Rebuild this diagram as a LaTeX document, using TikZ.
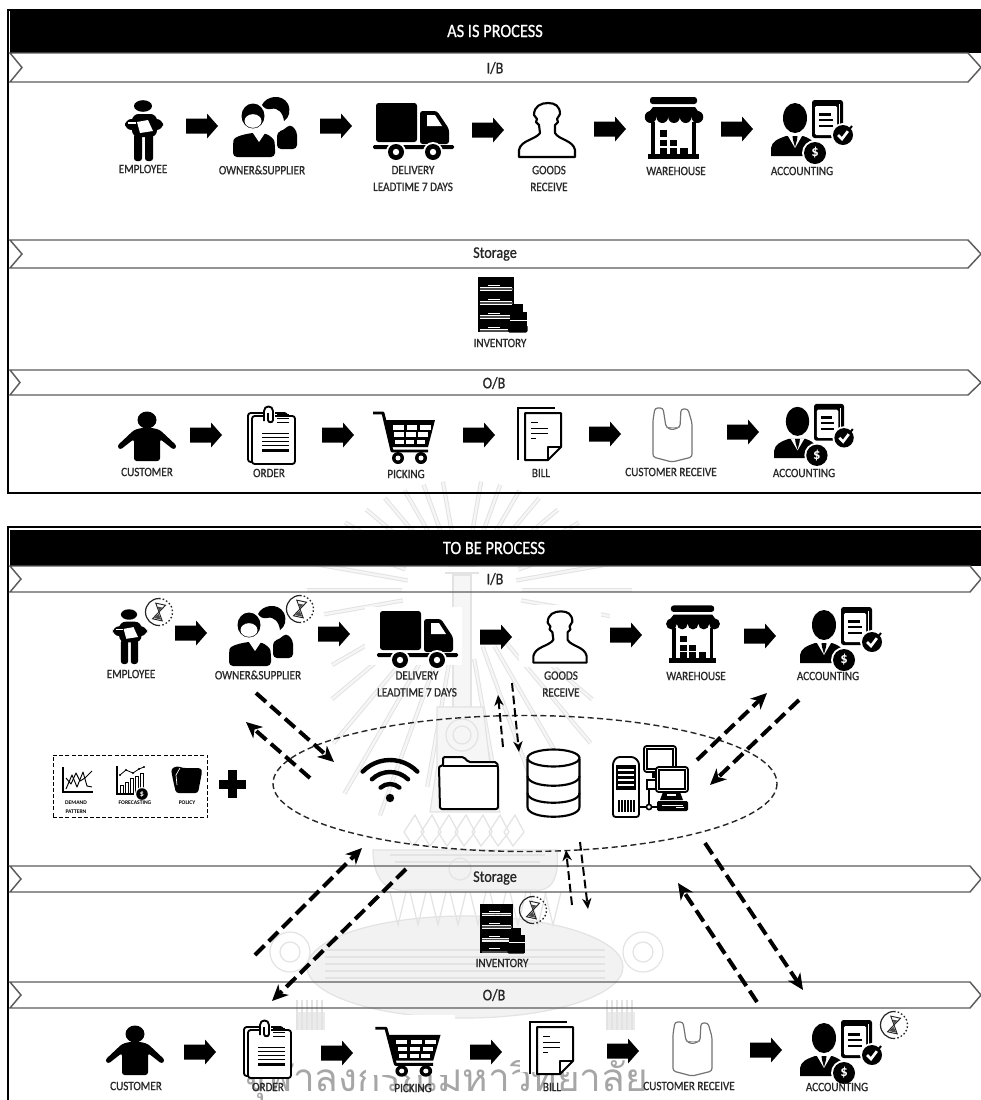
\documentclass[tikz,border=0pt]{standalone}
\usepackage{fontspec}
\setmainfont{Carlito}
\newfontfamily\condfont[FakeStretch=0.87,FakeBold=0.8]{Carlito}
\newfontfamily\thaifont[Script=Thai]{Loma}
\usetikzlibrary{arrows.meta}
\definecolor{labelgray}{gray}{0.16}
\definecolor{bandline}{gray}{0.36}
\definecolor{wm}{gray}{0.89}
\definecolor{wmin}{gray}{0.965}
\definecolor{wmfill}{gray}{0.95}
\definecolor{wmtassel}{gray}{0.92}
\tikzset{
 lab/.style={text=labelgray,font=\condfont\fontsize{9.6}{12.6}\selectfont,inner sep=0pt,align=center},
 tinylab/.style={text=black,font=\bfseries\fontsize{4.2}{6.6}\selectfont,inner sep=0pt,align=center},
 bandlab/.style={text=black!85,font=\condfont\fontsize{12.2}{14}\selectfont,inner sep=0pt},
 titlelab/.style={text=white,font=\condfont\fontsize{14.1}{16}\selectfont,inner sep=0pt},
 bandshape/.style={draw=bandline,line width=1.1pt},
 ol/.style={draw=black,line width=1.4pt,line join=round,fill=white},
 thickdash/.style={draw=black,line width=3pt,dash pattern=on 10pt off 4.5pt,-{Stealth[length=12pt,width=11pt,inset=3.5pt]}},
 thindash/.style={draw=black,line width=1.5pt,dash pattern=on 6.5pt off 3pt,-{Stealth[length=8pt,width=7pt,inset=2.5pt]}},
 ringdash/.style={draw=black!85,line width=1.05pt,dash pattern=on 4.5pt off 2.6pt},
 spear/.style={line width=3.2pt,draw=wm},
 spearin/.style={line width=1.7pt,draw=wmin},
 blockarrow/.pic={\fill (-16,-7.5)--(5,-7.5)--(5,-12.5)--(16,0)--(5,12.5)--(5,7.5)--(-16,7.5)--cycle;},
 employee/.pic={
  \fill (0,-25) ellipse[x radius=9,y radius=5.8];
  \fill[rounded corners=5] (-11,-17) rectangle (14,6);
  \fill[rounded corners=5] (-18,-12) rectangle (20,-1);
  \fill[rounded corners=2] (-9,3) rectangle (-1,30);
  \fill[rounded corners=2] (2,3) rectangle (10,30);
  \fill[white] (-6,-9)--(5,-11)--(10,0)--(-3,2)--cycle;
  \draw[white,line width=.8pt] (-15,-8)--(-7,-8);
 },
 owner/.pic={
  \fill[rounded corners=3] (13,22)--(13,5)--(20,3)--(26,-3)--(33,4)--(33,22)--cycle;
  \fill (-2,-22) .. controls (2,-31) and (18,-34) .. (24,-23) .. controls (27,-16) and (25,-9) .. (20,-6) .. controls (19,-14) and (14,-20) .. (7,-18) .. controls (3,-17) and (0,-19) .. (-2,-22)--cycle;
  \fill[rounded corners=3] (-31,30)--(-31,17) .. controls (-30,10) and (-22,8) .. (-13,6)--(-1,6) .. controls (5,8) and (10,12) .. (11,18)--(11,30)--cycle;
  \fill[white] (-11,6)--(-5,15)--(1,6)--cycle;
  \fill (-11,-11) ellipse[x radius=11.5,y radius=12.5];
  \fill[white] (-11,-6) ellipse[x radius=8.5,y radius=6.8];
 },
 truck/.pic={
  \fill[rounded corners=2] (-37,-27) rectangle (4,12);
  \fill[rounded corners=2] (7,-19)--(24,-19)--(36,-1)--(36,14)--(7,14)--cycle;
  \fill[white] (14,-15)--(22,-15)--(29,-4)--(14,-4)--cycle;
  \fill[rounded corners=1] (-40,15) rectangle (41,19);
  \fill[white] (-17,22) circle[radius=10];
  \fill[white] (20,22) circle[radius=10];
  \fill (-17,22) circle[radius=8];
  \fill (20,22) circle[radius=8];
  \fill[white] (-17,22) circle[radius=3.2];
  \fill[white] (20,22) circle[radius=3.2];
 },
 goods/.pic={
  \draw[black,line width=1.6pt,line join=round,fill=white] (-28,27)--(-28,20) .. controls (-26,10) and (-12,10) .. (-7,3)--(-8,-5)--(-11,-8)--(-10,-11)--(-13,-15) .. controls (-13,-24) and (-6,-27) .. (1,-27) .. controls (8,-27) and (13,-24) .. (13,-16)--(10,-11)--(11,-8)--(8,-5)--(8,3) .. controls (12,10) and (26,10) .. (28,20)--(28,27)--cycle;
 },
 warehouse/.pic={
  \fill[rounded corners=2] (-24,-31) rectangle (23,-24);
  \fill (-21,-21)--(21,-21)--(28,-11)--(-29,-11)--cycle;
  \foreach \i in {-23.4,-11.7,0,11.7,23.4}{\fill (\i,-11) ellipse[x radius=5.85,y radius=6];}
  \fill (-23,-6) rectangle (-19,27);
  \fill (18,-6) rectangle (22,27);
  \fill (-26,26) rectangle (25,31);
  \fill (-14,2) rectangle (-7,9);
  \fill (-14,12) rectangle (-7,18);
  \fill (-14,20) rectangle (-7,26);
  \fill (-4,12) rectangle (3,18);
  \fill (-4,20) rectangle (3,26);
  \fill (6,20) rectangle (14,26);
 },
 accounting/.pic={
  \fill (-17,-11) ellipse[x radius=12,y radius=15];
  \fill (-41,27)--(-41,19) .. controls (-40,12) and (-34,10) .. (-26,7)--(-9,7) .. controls (-3,9) and (0,11) .. (1,14)--(1,27)--cycle;
  \fill[white] (-24,7)--(-17,19)--(-10,7)--cycle;
  \fill (-19.5,7)--(-14.5,7)--(-15,11)--(-17,18)--(-19,11)--cycle;
  \fill[rounded corners=2] (0,-29) rectangle (31,9);
  \fill[white,rounded corners=1] (3,-23) rectangle (25,6);
  \fill[white] (27,-25) rectangle (28,8);
  \fill (7,-16) rectangle (19,-13.5);
  \fill (7,-10) rectangle (21,-8);
  \fill (7,-4) rectangle (21,-2);
  \fill[white] (31,6) circle[radius=12];
  \fill (31,6) circle[radius=10];
  \draw[white,line width=2pt] (26,6)--(30,10)--(36,2);
  \draw[black,line width=1.5pt] (36,2)--(40,-3);
  \fill[white] (3,24) circle[radius=13];
  \fill (3,24) circle[radius=11];
  \node[text=white,font=\bfseries\fontsize{11}{11}\selectfont,inner sep=0pt] (dollarsign) at (3,24) {\$};
 },
 inventory/.pic={
  \fill (-24,-27) rectangle (-22,28);
  \fill (10,-27) rectangle (12,28);
  \foreach \y in {-27,-13,1,15}{
   \fill (-22,\y) rectangle (10,\y+10);
   \draw[white,line width=.6pt] (-14,\y+8)--(-2,\y+8);
   \fill[black!70] (-22,\y+11) rectangle (11,\y+12.5);
  }
  \fill (12,0) rectangle (21,8);
  \fill (8,8) rectangle (25,28);
  \fill[rounded corners=1] (6,21) rectangle (25.5,28.5);
  \draw[white,line width=.5pt] (8,16)--(25,16);
 },
 customer/.pic={
  \fill (0,-16) ellipse[x radius=9.5,y radius=8.5];
  \fill[rounded corners=2] (-6,-8)--(6,-8)--(13,-6)--(30,10)--(27,14)--(13,3)--(13,25)--(-13,25)--(-13,3)--(-27,14)--(-30,10)--(-13,-6)--cycle;
 },
 orderdoc/.pic={
  \draw[ol,rounded corners=2] (-23,-22) rectangle (16,27);
  \draw[ol,rounded corners=2] (-19,-19) rectangle (24,29);
  \fill[white] (-8,-29) rectangle (4,-12);
  \draw[black,line width=1.4pt] (-7,-14)--(-7,-24) .. controls (-7,-30) and (2,-30) .. (2,-24)--(2,-15) .. controls (2,-12) and (-3,-12) .. (-3,-15)--(-3,-22);
  \fill (6,-21) rectangle (18,-19.8);
  \fill (6,-17) rectangle (18,-15.8);
  \fill (6,-13) rectangle (18,-11.8);
  \foreach \y in {-2,2,6,10}{\fill (-9,\y) rectangle (18,\y+1.2);}
  \fill (-9,14) rectangle (18,17);
 },
 cart/.pic={
  \draw[line width=2.2pt,line join=round] (-31,-25)--(-21,-25)--(-12,13)--(24,13);
  \fill (-19,-18)--(31,-18)--(24,9)--(-13,9)--cycle;
  \foreach \c/\d in {0/0,1/0,2/0,0/1,1/1,2/1,0/2,1/2,2/2}{
   \fill[white] ({-11+\d+\c*(13.5-\d*1.3)},{-13+\d*7.3}) rectangle ({-11+\d+\c*(13.5-\d*1.3)+10.5-\d},{-13+\d*7.3+4.5});
  }
  \fill (-6,20) circle[radius=6];
  \fill (17,20) circle[radius=6];
  \fill[white] (-6,20) circle[radius=2.5];
  \fill[white] (17,20) circle[radius=2.5];
 },
 billdoc/.pic={
  \draw[black,line width=1.3pt] (-21,26)--(-21,-26)--(16,-26);
  \draw[black,line width=1.5pt,line join=round,fill=white] (-14,-21)--(22,-21)--(22,13)--(9,26)--(-14,26)--cycle;
  \draw[black,line width=1pt,line join=round] (22,13)--(9,13)--(9,26);
  \foreach \y/\l in {-12/7,-6/17,-1/17,4/5}{\fill (-8,\y) rectangle (-8+\l,\y+1.1);}
 },
 bagicon/.pic={
  \draw[black!55,line width=.9pt,fill=white,line join=round,rounded corners=2] (-19,-15)--(-17,-27)--(-9,-27)--(-6,-8)--(0,-5)--(8,-8)--(9,-26)--(16,-26)--(20,-12)--(20,22)--(0,27)--(-19,22)--cycle;
  \draw[black!45,line width=.6pt] (-6,-8) .. controls (-2,-7) and (4,-7) .. (8,-8);
 },
 hourglass/.pic={
  \draw[black!85,line width=.9pt] (0,-13.5) arc[start angle=-90,end angle=-270,radius=13.5];
  \draw[black!85,line width=1pt,dash pattern=on 1.2pt off 1.6pt] (0,-13.5) arc[start angle=-90,end angle=90,radius=13.5];
  \begin{scope}[rotate=-12]
   \draw[black!85,line width=.7pt,fill=white] (-5,-8)--(5,-8)--(-5,8)--(5,8)--cycle;
   \fill[black!70] (-2.5,-5)--(2.5,-5)--(0,-1)--cycle;
   \fill[black!70] (-4,7)--(4,7)--(0,2)--cycle;
  \end{scope}
 },
 wifi/.pic={
  \fill (0,16) circle[radius=4.2];
  \foreach \r/\a in {14/42,26/44,38/46}{
   \draw[line width=3.3pt,line cap=round] ({\r*cos(-90-\a)},{16+\r*sin(-90-\a)}) arc[start angle=-90-\a,end angle=-90+\a,radius=\r];
  }
 },
 folderbig/.pic={
  \draw[black,line width=1.5pt,line join=round,rounded corners=1.5,fill=white] (-29,26)--(-30,-17)--(-26,-17)--(-26,-26)--(-5,-26)--(-1,-21)--(28,-21)--(29,-16)--(29,26)--cycle;
  \draw[black,line width=1.2pt] (-26,-17)--(29,-17);
 },
 dbicon/.pic={
  \draw[black,line width=1.6pt,fill=white] (-26,-24)--(-26,24) .. controls (-26,37) and (26,37) .. (26,24)--(26,-24);
  \draw[black,line width=1.6pt,fill=white] (0,-25) ellipse[x radius=26,y radius=8.5];
  \draw[black,line width=1.6pt] (-26,-7) .. controls (-26,6) and (26,6) .. (26,-7);
  \draw[black,line width=1.6pt] (-26,10) .. controls (-26,23) and (26,23) .. (26,10);
 },
 computer/.pic={
  \draw[black,line width=1.4pt,fill=white,rounded corners=2] (-37,36)--(-37,-19)--(-33,-24)--(-16,-24)--(-11,-19)--(-11,36)--cycle;
  \foreach \y in {-15,-10,-5,0,5}{\fill (-33,\y) rectangle (-15,\y+2.6);}
  \draw[line width=1.4pt] (-33,-15) rectangle (-15,8);
  \foreach \x in {-32,-29,-26,-23,-20,-17}{\fill (\x,19) rectangle (\x+1.5,31);}
  \draw[ol,rounded corners=2] (-6,-35) rectangle (26,-9);
  \draw[black,line width=.8pt] (-3,-32) rectangle (23,-12);
  \fill (2,-8) rectangle (10,-3);
  \draw[black,line width=1.4pt,fill=white] (-3,-1) rectangle (7,8);
  \draw[line width=1.2pt] (-1,8)--(-1,26);
  \draw[line width=1.2pt] (-11,26)--(10,26);
  \draw[line width=1.2pt,fill=white] (-1,26) circle[radius=2.6];
  \draw[ol,rounded corners=2] (6,-14) rectangle (38,11);
  \draw[black,line width=.8pt] (9,-11) rectangle (35,8);
  \fill (13,11)--(30,11)--(33,19)--(10,19)--cycle;
  \fill[white] (17,13) rectangle (26,15);
  \fill[rounded corners=1] (7,20) rectangle (38,30);
  \fill[white] (12,24) rectangle (33,25);
  \fill[white] (26,25.5) rectangle (34,27);
 },
 chartsmall/.pic={
  \draw[line width=.8pt] (-14,-13)--(-14,12)--(16,12);
  \draw[line width=.7pt,line join=round] (-11,9)--(-5,-5)--(0,7)--(6,-8)--(10,6)--(15,7);
  \draw[line width=.7pt,line join=round] (-11,-2)--(-6,4)--(-1,-7)--(3,1)--(8,-2)--(11,-5)--(15,-9);
 },
 forecastsmall/.pic={
  \draw[line width=.8pt] (-15,-14)--(-15,14)--(2,14);
  \foreach \x/\t in {-12/5,-7/2,-2/-2,3/-4,8/-7}{\draw[line width=.7pt] (\x,14) rectangle (\x+3,\t);}
  \draw[line width=.6pt,line join=round] (-12,-5)--(-6,-10)--(1,-7)--(7,-11)--(12,-13);
  \foreach \x/\t in {-12/-5,-6/-10,1/-7,7/-11,12/-13}{\fill (\x,\t) circle[radius=1.2];}
  \fill[white] (10,14) circle[radius=7];
  \fill (10,14) circle[radius=5.8];
  \node[text=white,font=\bfseries\fontsize{6}{6}\selectfont,inner sep=0pt] (forecastdollar) at (10,14) {\$};
 },
 policysmall/.pic={
  \fill[rounded corners=2] (-15,-11)--(-9,-14)--(-3,-12)--(15,-12)--(16,-8)--(12,13)--(-10,13)--(-13,0)--cycle;
  \draw[white,line width=.5pt] (-6,-12)--(-10,-5)--(-9,5);
 },
}
\begin{document}
\begin{tikzpicture}[x=0.75pt,y=-0.75pt]
\useasboundingbox (0,0) rectangle (981,1100);
\fill[white] (0,0) rectangle (981,1100);

% ---- crest watermark
\coordinate (crestc) at (462,590);
\foreach \a/\ra/\rb in {-160/60/150,-170/55/160,180/60/155,170/60/140,-150/60/135,-140/60/125,-130/55/120,-120/55/115,-110/50/112,-100/50/110,-80/50/110,-70/50/112,-60/55/115,-50/55/120,-40/60/125,-30/60/135,-20/60/150,-10/55/165,0/60/170,10/60/150,150/70/150,140/75/170,130/70/200,120/65/235,110/60/240,100/70/200,80/70/200,70/60/240,60/65/235,50/70/200,40/75/170,30/70/150}{
 \draw[spear] (crestc)++(\a:\ra)--++(\a:{\rb-\ra});
 \draw[spearin] (crestc)++(\a:\ra)--++(\a:{\rb-\ra});
}
\begin{scope}[draw=wm,line width=.9pt]
 \fill[wmin] (453,575) rectangle (471,710);
 \draw (453,575) rectangle (471,710);
 \draw[line width=1.6pt] (445,573)--(479,573) (448,566)--(476,566);
 \fill[wmin] (437,707)--(483,707)--(490,765)--(500,812)--(430,812)--(437,765)--cycle;
 \draw (437,707)--(483,707)--(490,765)--(500,812)--(430,812)--(437,765)--cycle;
 \draw (462,735) circle[radius=16];
 \draw (462,735) circle[radius=9];
 \draw (462,775) circle[radius=16];
 \draw (462,775) circle[radius=9];
 \foreach \x in {415,432,449,466,483,500,515}{\draw (\x,815)--(\x+9,832)--(\x-2,846)--(\x-11,832)--cycle;}
 \fill[wmfill] (465,967) ellipse[x radius=158,y radius=51];
 \draw (465,967) ellipse[x radius=158,y radius=51];
 \foreach \y in {950,957,964,971,978}{\draw[line width=1.5pt] (325,\y)--(605,\y);}
 \fill[wmfill] (373,850) .. controls (373,888) and (395,892) .. (410,890)--(535,890) .. controls (550,892) and (560,880) .. (557,850)--cycle;
 \draw (373,850) .. controls (373,888) and (395,892) .. (410,890)--(535,890) .. controls (550,892) and (560,880) .. (557,850)--cycle;
 \draw[line width=1.4pt] (390,855)--(545,855) (395,862)--(540,862);
 \draw (460,869) circle[radius=11];
 \foreach \x in {390,410,430,450,470,490,510,530,545}{\draw (\x,892)--(\x+8,925)--(\x+16,892);}
 \draw (290,952) circle[radius=20];
 \draw (290,952) circle[radius=10];
 \draw (643,952) circle[radius=20];
 \draw (643,952) circle[radius=10];
 \fill[wmtassel] (297,1012) rectangle (325,1030);
 \fill[wmtassel] (607,1012) rectangle (635,1030);
 \foreach \x in {297,302,307,312,317,322,607,612,617,622,627,632}{\draw (\x,1000)--(\x,1030);}
\end{scope}
\node[text=black!35,font=\thaifont\fontsize{29}{29}\selectfont,inner sep=0pt] (thaiwm) at (446,1080) {จุฬาลงกรณ์มหาวิทยาลัย};
\fill[white] (365,607) rectangle (462,665);
\fill[white] (519,605) rectangle (601,667);
\fill[white] (366,1015) rectangle (455,1075);
\fill[white] (520,1018) rectangle (578,1072);
\fill[white] (658,1018) rectangle (720,1078);
\fill[white] (785,1015) rectangle (886,1080);

% ---- AS IS panel
\fill[white] (0,0) rectangle (981,20);
\fill[black] (10,11) rectangle (981,53);
\node[titlelab] (asis) at (495,31) {AS IS PROCESS};
\draw[black,line width=1.5pt] (981,10)--(8,10)--(8,492.5)--(981,492.5);
\draw[bandshape] (10,53)--(22,67.5)--(10,82)--(968,82)--(981,67.5)--(968,53)--cycle;
\draw[bandshape] (10,240)--(22,254)--(10,268)--(968,268)--(981,254)--(968,240)--cycle;
\draw[bandshape] (10,370)--(20,382.5)--(10,395)--(968,395)--(981,382.5)--(968,370)--cycle;
\node[bandlab] (b1) at (495,68) {I/B};
\node[bandlab] (b2) at (495,254) {Storage};
\node[bandlab] (b3) at (494,383) {O/B};

\pic at (143,131) {employee};
\pic at (202,126) {blockarrow};
\pic at (264,127) {owner};
\pic at (336,126) {blockarrow};
\pic at (413,130) {truck};
\pic at (488,130) {blockarrow};
\pic at (547,130) {goods};
\pic at (610,129) {blockarrow};
\pic at (674,128) {warehouse};
\pic at (737,129) {blockarrow};
\pic at (812,129) {accounting};
\node[lab] (l1) at (143,169) {EMPLOYEE};
\node[lab] (l2) at (262,170) {OWNER\&SUPPLIER};
\node[lab] (l3) at (413,178.5) {DELIVERY\\LEADTIME 7 DAYS};
\node[lab] (l4) at (549,178.5) {GOODS\\RECEIVE};
\node[lab] (l5) at (676,171) {WAREHOUSE};
\node[lab] (l6) at (802,171) {ACCOUNTING};

\pic at (502,304) {inventory};
\node[lab] (l7) at (500,343) {INVENTORY};

\pic at (147,436) {customer};
\pic at (206,435) {blockarrow};
\pic at (271,435) {orderdoc};
\pic at (338,435) {blockarrow};
\pic at (404,438) {cart};
\pic at (479,435) {blockarrow};
\pic at (539,434) {billdoc};
\pic at (605,434) {blockarrow};
\pic at (672,435) {bagicon};
\pic at (743,432) {blockarrow};
\pic[scale=.97] at (814,432) {accounting};
\node[lab] (l8) at (147,472) {CUSTOMER};
\node[lab] (l9) at (269,473) {ORDER};
\node[lab] (l10) at (406,474) {PICKING};
\node[lab] (l11) at (541,473) {BILL};
\node[lab] (l12) at (671,472) {CUSTOMER RECEIVE};
\node[lab] (l13) at (804,473) {ACCOUNTING};

% ---- TO BE panel
\fill[black] (10,530) rectangle (981,566);
\node[titlelab] (tobe) at (494,548) {TO BE PROCESS};
\draw[black,line width=1.5pt] (981,526.5)--(8,526.5)--(8,1100);
\draw[bandshape] (10,566)--(21,579)--(10,592)--(970,592)--(981,579)--(970,566)--cycle;
\draw[bandshape] (10,866)--(21,879)--(10,892)--(970,892)--(981,879)--(970,866)--cycle;
\draw[bandshape] (10,982)--(21,995)--(10,1008)--(970,1008)--(981,995)--(970,982)--cycle;
\node[bandlab] (b4) at (495,579) {I/B};
\node[bandlab] (b5) at (495,878) {Storage};
\node[bandlab] (b6) at (494,995) {O/B};

\pic[scale=.9] at (129,637) {employee};
\pic at (159,612) {hourglass};
\pic at (191,633) {blockarrow};
\pic at (260,636) {owner};
\pic at (300,609) {hourglass};
\pic at (334,634) {blockarrow};
\pic at (417,638) {truck};
\pic at (496,637) {blockarrow};
\pic[scale=.95] at (560,637) {goods};
\pic at (626,635) {blockarrow};
\pic[scale=.92] at (693,634) {warehouse};
\pic at (760,636) {blockarrow};
\pic at (841,636) {accounting};
\node[lab] (l14) at (131,674) {EMPLOYEE};
\node[lab] (l15) at (258,675) {OWNER\&SUPPLIER};
\node[lab] (l16) at (417,684) {DELIVERY\\LEADTIME 7 DAYS};
\node[lab] (l17) at (561,684) {GOODS\\RECEIVE};
\node[lab] (l18) at (696,676) {WAREHOUSE};
\node[lab] (l19) at (828,676) {ACCOUNTING};

% ---- ellipse cloud and its contents
\node[draw=none,inner sep=0pt] (cloudc) at (525,783.5) {};
\draw[ringdash] (cloudc) ellipse[x radius=252,y radius=68];
\pic at (390,782) {wifi};
\pic at (469,783) {folderbig};
\pic at (553.5,783) {dbicon};
\pic at (650,781) {computer};

% ---- policy box
\node[draw=black,line width=.9pt,dash pattern=on 3pt off 1.6pt,minimum width=116pt,minimum height=47pt,inner sep=0pt] (inputbox) at (130.5,786.5) {};
\pic at (77,780) {chartsmall};
\pic at (132,780) {forecastsmall};
\pic at (186,780) {policysmall};
\node[tinylab] (t1) at (76,807.5) {DEMAND\\PATTERN};
\node[tinylab] (t2) at (135,803) {FORECASTING};
\node[tinylab] (t3) at (187,803) {POLICY};
\fill (228,770) rectangle (237,798);
\fill (219,780) rectangle (246,789);

% ---- dashed connectors
\coordinate (a1) at (256,693); \coordinate (a2) at (334,762);
\coordinate (b1p) at (310,778); \coordinate (b2p) at (246,722);
\coordinate (c1) at (503,747); \coordinate (c2) at (498,695);
\coordinate (d1) at (512,683); \coordinate (d2) at (519,752);
\coordinate (e1) at (697,760); \coordinate (e2) at (767,693);
\coordinate (f1) at (799,700); \coordinate (f2) at (710,785);
\coordinate (g1) at (255,955); \coordinate (g2) at (362,848);
\coordinate (h1) at (406,869); \coordinate (h2) at (272,1001);
\coordinate (i1) at (572,905); \coordinate (i2) at (566,850);
\coordinate (j1) at (580,842); \coordinate (j2) at (588,909);
\coordinate (k1) at (705,843); \coordinate (k2) at (803,990);
\coordinate (m1) at (757,1002); \coordinate (m2) at (678,883);
\draw[thickdash] (a1)--(a2);
\draw[thickdash] (b1p)--(b2p);
\draw[thindash] (c1)--(c2);
\draw[thindash] (d1)--(d2);
\draw[thickdash] (e1)--(e2);
\draw[thickdash] (f1)--(f2);
\draw[thickdash] (g1)--(g2);
\draw[thickdash] (h1)--(h2);
\draw[thindash] (i1)--(i2);
\draw[thindash] (j1)--(j2);
\draw[thickdash] (k1)--(k2);
\draw[thickdash] (m1)--(m2);

\pic[scale=.9] at (502,928) {inventory};
\pic at (533,910) {hourglass};
\node[lab] (l20) at (502,963) {INVENTORY};

% ---- bottom row
\pic at (135,1050) {customer};
\pic at (200,1052) {blockarrow};
\pic at (267,1049) {orderdoc};
\pic at (337,1053) {blockarrow};
\pic[xscale=1.05,yscale=.95] at (408,1052) {cart};
\pic at (486,1052) {blockarrow};
\pic at (551,1048) {billdoc};
\pic at (623,1051) {blockarrow};
\pic at (692,1049) {bagicon};
\pic at (766,1050) {blockarrow};
\pic at (841,1049) {accounting};
\pic at (894,1025) {hourglass};
\node[lab] (l21) at (136,1086) {CUSTOMER};
\node[lab] (l22) at (268,1087) {ORDER};
\node[lab] (l23) at (413,1088) {PICKING};
\node[lab] (l24) at (552,1087) {BILL};
\node[lab] (l25) at (689,1086) {CUSTOMER RECEIVE};
\node[lab] (l26) at (837,1087) {ACCOUNTING};
\end{tikzpicture}
\end{document}
